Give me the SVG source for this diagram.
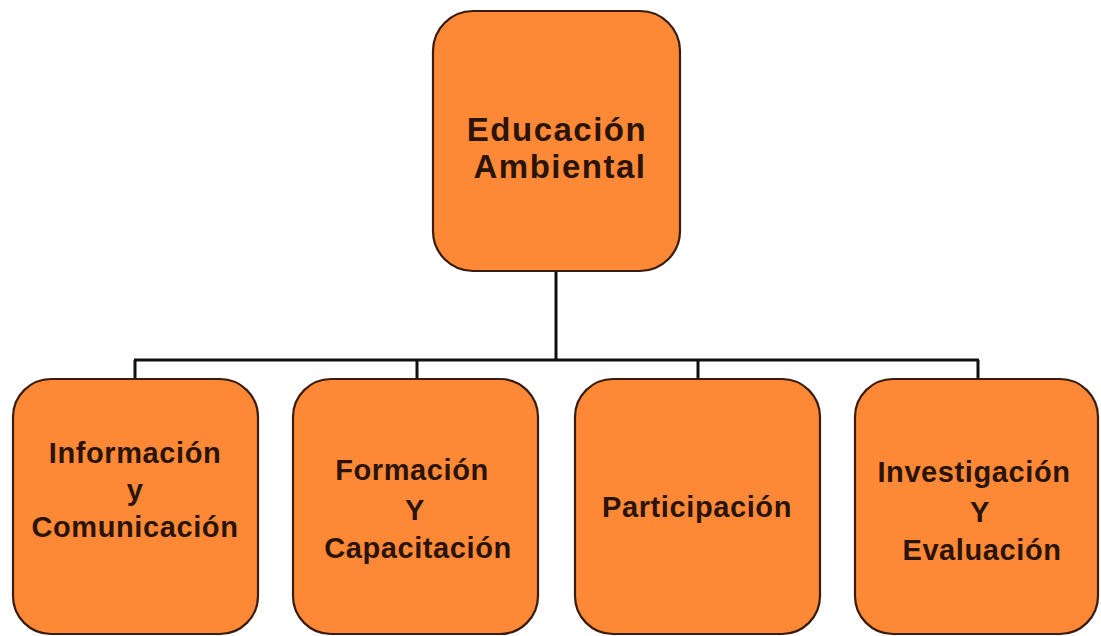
<svg xmlns="http://www.w3.org/2000/svg" width="1101" height="636" viewBox="0 0 1101 636">
<style>
.box{fill:#FD8936;stroke:#3a1c0c;stroke-width:2.2}
.t{font-family:"Liberation Sans",Arial,sans-serif;font-weight:bold;fill:#2a1408;text-anchor:middle}
.top{font-size:33px;letter-spacing:1.5px}
.sub{font-size:29px;letter-spacing:0.6px}
.conn{stroke:#111;stroke-width:3;fill:none}
</style>
<rect width="1101" height="636" fill="#fff"/>
<g id="connectors">
<path class="conn" d="M556,271 V360 M134,360 H979 M135,360 V379 M417,360 V379 M698,360 V379 M978,360 V379"/>
</g>
<g id="educacion-ambiental">
<rect class="box" x="433" y="11" width="247" height="260" rx="40"/>
<text class="t top" x="557" y="141">Educación</text>
<text class="t top" x="560" y="178">Ambiental</text>
</g>
<g id="informacion">
<rect class="box" x="13" y="379" width="245" height="255" rx="38"/>
<text class="t sub" x="135" y="463">Información</text>
<text class="t sub" x="135" y="500">y</text>
<text class="t sub" x="135" y="537">Comunicación</text>
</g>
<g id="formacion">
<rect class="box" x="293" y="379" width="245" height="255" rx="38"/>
<text class="t sub" x="412" y="480">Formación</text>
<text class="t sub" x="415" y="520">Y</text>
<text class="t sub" x="418" y="558">Capacitación</text>
</g>
<g id="participacion">
<rect class="box" x="575" y="379" width="245" height="255" rx="38"/>
<text class="t sub" x="697" y="517">Participación</text>
</g>
<g id="investigacion">
<rect class="box" x="855" y="379" width="243" height="255" rx="38"/>
<text class="t sub" x="974" y="482">Investigación</text>
<text class="t sub" x="980" y="522">Y</text>
<text class="t sub" x="982" y="560">Evaluación</text>
</g>
</svg>
